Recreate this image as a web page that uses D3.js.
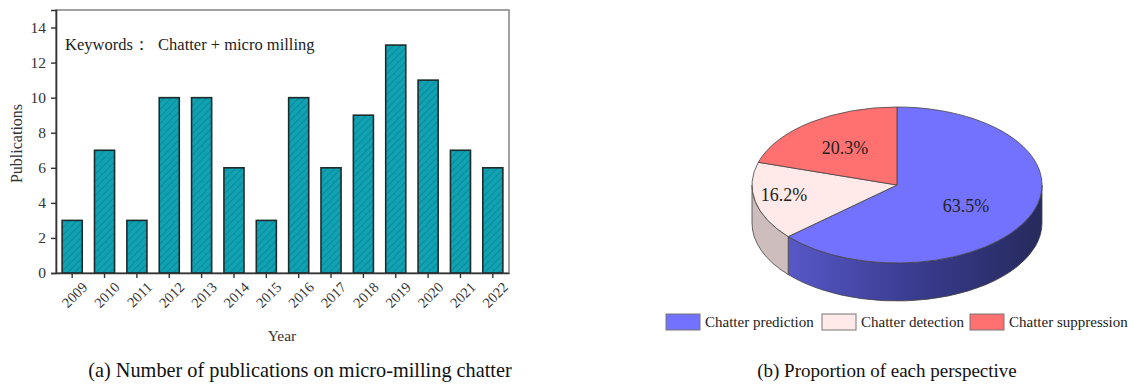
<!DOCTYPE html>
<html>
<head>
<meta charset="utf-8">
<script src="https://cdn.jsdelivr.net/npm/d3@7/dist/d3.min.js"></script>
<style>
  html, body { margin: 0; padding: 0; background: #fff; }
  svg text { font-family: "Liberation Serif", "Times New Roman", serif !important; }
</style>
</head>
<body>
<svg id="chart" width="1134" height="384"></svg>
<script>
// Publications per year
const years = ["2009","2010","2011","2012","2013","2014","2015","2016","2017","2018","2019","2020","2021","2022"];
const publications = [3, 7, 3, 10, 10, 6, 3, 10, 6, 9, 13, 11, 7, 6];
const yTicks = [0, 2, 4, 6, 8, 10, 12, 14];

// Research perspectives share (%)
const perspectives = ["Chatter prediction", "Chatter detection", "Chatter suppression"];
const shares = [63.5, 16.2, 20.3];
const topColors = ["#7272ff", "#ffe9e9", "#ff7171"];
const sideColors = ["url(#sideBlue)", "#cdbdbd", "#d85f5f"];

const svg = d3.select("#chart");
const defs = svg.append("defs");

// diagonal hatch fill for the bars
const hatch = defs.append("pattern")
  .attr("id", "hatch").attr("patternUnits", "userSpaceOnUse")
  .attr("width", 5).attr("height", 5)
  .attr("patternTransform", "rotate(45)");
hatch.append("rect").attr("width", 5).attr("height", 5).attr("fill", "#10a2b2");
hatch.append("line").attr("x1", 0).attr("y1", 0).attr("x2", 0).attr("y2", 5)
  .attr("stroke", "#0b8795").attr("stroke-width", 1.8);

// ---------- (a) bar chart ----------
const plot = { left: 56, right: 509, top: 10, bottom: 273 };
const x = d3.scaleBand().domain(years).range([plot.left, plot.right])
  .paddingInner(0.38).paddingOuter(0.19);
const y = d3.scaleLinear().domain([0, 15]).range([plot.bottom, plot.top]);

const gA = svg.append("g");

// plot frame
gA.append("rect")
  .attr("x", plot.left).attr("y", plot.top)
  .attr("width", plot.right - plot.left).attr("height", plot.bottom - plot.top)
  .attr("fill", "none").attr("stroke", "#8a8a8a").attr("stroke-width", 1.6);

gA.append("text")
  .attr("x", 65).attr("y", 50)
  .attr("font-size", 16.5).attr("fill", "#222")
  .attr("xml:space", "preserve")
  .text("Keywords\uFF1A  Chatter + micro milling");

// bars
gA.selectAll("rect.bar").data(publications).join("rect")
  .attr("class", "bar")
  .attr("x", (d, i) => x(years[i]))
  .attr("y", d => y(d))
  .attr("width", x.bandwidth())
  .attr("height", d => y(0) - y(d))
  .attr("fill", "url(#hatch)")
  .attr("stroke", "#1e2b2d").attr("stroke-width", 1.6);

// y axis
const yAxis = gA.append("g").attr("transform", `translate(${plot.left},0)`)
  .call(d3.axisLeft(y).tickValues(yTicks).tickSize(5).tickPadding(5));
yAxis.attr("font-family", null);
yAxis.select(".domain").attr("stroke", "#333").attr("stroke-width", 1.6);
yAxis.selectAll(".tick line").attr("stroke", "#333").attr("stroke-width", 1.4);
yAxis.selectAll(".tick text").attr("font-size", 15.5).attr("fill", "#333");

// x axis
const xAxis = gA.append("g").attr("transform", `translate(0,${plot.bottom})`)
  .call(d3.axisBottom(x).tickSize(5).tickSizeOuter(0));
xAxis.attr("font-family", null);
xAxis.select(".domain").attr("stroke", "#333").attr("stroke-width", 1.6);
xAxis.selectAll(".tick line").attr("stroke", "#333").attr("stroke-width", 1.4);
xAxis.selectAll(".tick text")
  .attr("font-size", 14.5).attr("fill", "#333")
  .attr("text-anchor", "end")
  .attr("transform", "translate(10,9) rotate(-45)")
  .attr("dy", "0.6em").attr("y", 0).attr("x", 0);

gA.append("text")
  .attr("transform", `translate(22,${(plot.top + plot.bottom) / 2 + 2}) rotate(-90)`)
  .attr("text-anchor", "middle").attr("font-size", 16).attr("fill", "#333")
  .text("Publications");

gA.append("text")
  .attr("x", 282).attr("y", 341)
  .attr("text-anchor", "middle").attr("font-size", 15.5).attr("fill", "#333")
  .text("Year");

gA.append("text")
  .attr("x", 300).attr("y", 377)
  .attr("text-anchor", "middle").attr("font-size", 20.3).attr("fill", "#111")
  .text("(a) Number of publications on micro-milling chatter");

// ---------- (b) 3D pie ----------
const cx = 897, cy = 185, rx = 145, ry = 78, depth = 38;

const sideGrad = defs.append("linearGradient")
  .attr("id", "sideBlue").attr("gradientUnits", "userSpaceOnUse")
  .attr("x1", cx - rx).attr("y1", 0).attr("x2", cx + rx).attr("y2", 0);
sideGrad.append("stop").attr("offset", "0%").attr("stop-color", "#6060d8");
sideGrad.append("stop").attr("offset", "55%").attr("stop-color", "#3a3c90");
sideGrad.append("stop").attr("offset", "100%").attr("stop-color", "#262a5c");

const pie = d3.pie().sort(null).startAngle(0).endAngle(2 * Math.PI);
const arcs = pie(shares);

const pt = (a, dy = 0) => [cx + rx * Math.sin(a), cy - ry * Math.cos(a) + dy];

const gB = svg.append("g");

// side walls: only the front half (angles between PI/2 and 3PI/2) is visible
arcs.forEach((a, i) => {
  const s = Math.max(a.startAngle, Math.PI / 2);
  const e = Math.min(a.endAngle, 3 * Math.PI / 2);
  if (e <= s) return;
  const p0 = pt(s), p1 = pt(e), q1 = pt(e, depth), q0 = pt(s, depth);
  const large = (e - s) > Math.PI ? 1 : 0;
  const d = `M${p0}A${rx},${ry} 0 ${large} 1 ${p1}L${q1}A${rx},${ry} 0 ${large} 0 ${q0}Z`;
  gB.append("path").attr("d", d)
    .attr("fill", sideColors[i]).attr("stroke", "#444").attr("stroke-width", 0.8);
});

// top face
arcs.forEach((a, i) => {
  const p0 = pt(a.startAngle), p1 = pt(a.endAngle);
  const large = (a.endAngle - a.startAngle) > Math.PI ? 1 : 0;
  const d = `M${cx},${cy}L${p0}A${rx},${ry} 0 ${large} 1 ${p1}Z`;
  gB.append("path").attr("d", d)
    .attr("fill", topColors[i]).attr("stroke", "#444").attr("stroke-width", 0.8);
});

// slice labels
const labelPos = [[966, 212], [784, 201], [845, 154]];
arcs.forEach((a, i) => {
  gB.append("text")
    .attr("x", labelPos[i][0]).attr("y", labelPos[i][1])
    .attr("text-anchor", "middle").attr("font-size", 18).attr("fill", "#222")
    .text(shares[i].toFixed(1) + "%");
});

// legend
const legendX = [666, 822, 970];
perspectives.forEach((name, i) => {
  gB.append("rect")
    .attr("x", legendX[i]).attr("y", 314).attr("width", 34).attr("height", 16)
    .attr("fill", topColors[i]).attr("stroke", "#777").attr("stroke-width", 1);
  gB.append("text")
    .attr("x", legendX[i] + 39).attr("y", 327)
    .attr("font-size", 15).attr("fill", "#222")
    .text(name);
});

gB.append("text")
  .attr("x", 887).attr("y", 377)
  .attr("text-anchor", "middle").attr("font-size", 19).attr("fill", "#111")
  .text("(b) Proportion of each perspective");
</script>
</body>
</html>
